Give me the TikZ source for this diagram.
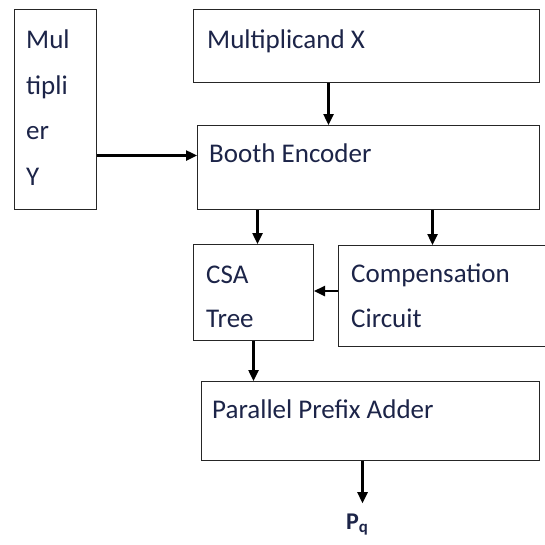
\documentclass[tikz,border=0pt]{standalone}
\usepackage{fontspec}
\setmainfont{Carlito}
\usetikzlibrary{arrows.meta}
\definecolor{txtblue}{RGB}{28,36,72}

\begin{document}
\begin{tikzpicture}[x=1pt,y=1pt,
    blk/.style={draw=black!85,line width=1pt,inner sep=0pt,anchor=north west},
    lbl/.style={text=txtblue,font=\fontsize{27}{45}\selectfont,inner sep=0pt,anchor=base west,align=left},
    arr/.style={line width=2.4pt,-{Triangle[length=11pt,width=10pt]}}]
  \useasboundingbox (0,0) rectangle (545,-544);
  % the blocks
  \node[blk,minimum width=82pt,minimum height=200pt] (mult) at (14,-9) {};
  \node[blk,minimum width=346pt,minimum height=73pt] (mcand) at (193,-9) {};
  \node[blk,minimum width=342pt,minimum height=84pt] (booth) at (197,-125) {};
  \node[blk,minimum width=120pt,minimum height=96pt] (csa) at (193,-244) {};
  \node[blk,minimum width=212pt,minimum height=101pt] (comp) at (338,-245) {};
  \node[blk,minimum width=338pt,minimum height=79pt] (pfa) at (201,-381) {};
  % the texts (base is the last line)
  \node[lbl,font=\fontsize{27}{45.5}\selectfont] (multtxt) at (26,-185) {Mul\\tipli\\er\\Y};
  \node[lbl] (mcandtxt) at (207,-48) {Multiplicand X};
  \node[lbl] (boothtxt) at (209,-162) {Booth Encoder};
  \node[lbl,font=\fontsize{27}{44}\selectfont] (csatxt) at (206,-327) {CSA\\Tree};
  \node[lbl] (comptxt) at (351,-327) {Compensation\\Circuit};
  \node[lbl] (pfatxt) at (212,-418) {Parallel Prefix Adder};
  \node[lbl,font=\fontsize{24}{28}\selectfont\bfseries] (pq) at (346,-529) {P\textsubscript{q}};
  \coordinate (pqtip) at ([yshift=10pt]pq.north);
  % the connections
  \draw[arr] ([yshift=-46pt]mult.east) -- ([yshift=-46pt]mult.east -| booth.west);
  \draw[arr] ([xshift=-38pt]mcand.south) -- ([xshift=-38pt]mcand.south |- booth.north);
  \draw[arr] ([xshift=-111pt]booth.south) -- ([xshift=-111pt]booth.south |- csa.north);
  \draw[arr] ([xshift=64pt]booth.south) -- ([xshift=64pt]booth.south |- comp.north);
  \draw[arr] ([yshift=5pt]comp.west) -- ([yshift=5pt]comp.west -| csa.east);
  \draw[arr] (csa.south) -- (csa.south |- pfa.north);
  \draw[arr] ([xshift=-8pt]pfa.south) -- ([xshift=-8pt]pfa.south |- pqtip);
\end{tikzpicture}
\end{document}
